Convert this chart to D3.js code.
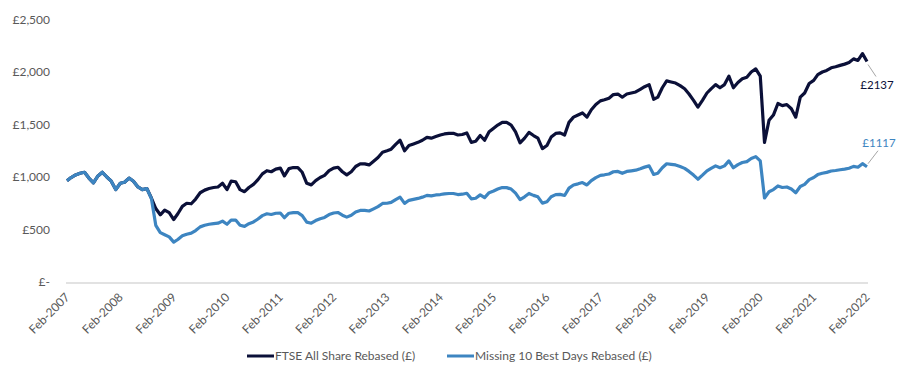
<!DOCTYPE html>
<html>
<head>
<meta charset="utf-8">
<script src="https://cdn.jsdelivr.net/npm/d3@7"></script>
<style>
  html, body { margin: 0; padding: 0; background: #ffffff; }
  svg { display: block; }
  text { font-family: Lato, "Open Sans", sans-serif; fill: #595959; }
</style>
</head>
<body>
<svg id="chart" width="904" height="374"></svg>
<script>
// ---- Data (monthly, starting Feb 2007) ----
const startMonth = "2007-02-01";
const ftseRebased = [
  965, 995, 1020, 1036, 1045, 990, 945, 1010, 1045, 1000, 960, 880,
  940, 950, 990, 960, 905, 880, 890, 800, 700, 640, 685, 660,
  595, 650, 720, 750, 745, 790, 850, 875, 890, 900, 905, 940,
  880, 960, 955, 880, 860, 900, 930, 975, 1030, 1060, 1050, 1075,
  1085, 1010, 1080, 1090, 1090, 1045, 940, 925, 965, 995, 1015, 1060,
  1085, 1093, 1050, 1020, 1050, 1100, 1125, 1125, 1115, 1150, 1185, 1235,
  1250, 1265, 1310, 1350, 1250, 1300, 1315, 1330, 1350, 1378, 1370, 1385,
  1400, 1410, 1416, 1416, 1400, 1405, 1420, 1330, 1340, 1395, 1350, 1430,
  1465, 1495, 1521, 1520, 1495, 1430, 1325, 1370, 1425, 1395, 1370, 1270,
  1300, 1380, 1415, 1420, 1400, 1520, 1570, 1590, 1610, 1570, 1640, 1690,
  1725, 1735, 1750, 1785, 1790, 1760, 1790, 1800, 1810, 1835, 1860, 1880,
  1740, 1760, 1850, 1915, 1905, 1895, 1870, 1840, 1790, 1730, 1665, 1730,
  1800, 1840, 1880, 1850, 1880, 1960, 1850, 1900, 1935, 1950, 2000, 2030,
  1960, 1330, 1540, 1590, 1700, 1680, 1690, 1650, 1570, 1760, 1800, 1890,
  1920, 1975, 2000, 2015, 2040, 2050, 2063, 2075, 2090, 2125, 2110, 2175,
  2100
];
const missing10Rebased = [
  965, 995, 1020, 1036, 1045, 990, 945, 1010, 1045, 1000, 960, 880,
  940, 950, 990, 960, 905, 880, 890, 795, 540, 470, 450, 430,
  380, 405, 440, 455, 465, 490, 525, 540, 550, 556, 560, 580,
  550, 590, 590, 540, 530, 555, 572, 600, 632, 650, 643, 655,
  657, 612, 655, 660, 660, 633, 570, 560, 585, 603, 615, 642,
  657, 662, 636, 618, 636, 667, 682, 682, 676, 697, 718, 748,
  750, 758, 785, 808, 749, 778, 787, 796, 808, 825, 820, 829,
  833, 839, 843, 843, 833, 836, 845, 792, 798, 830, 804, 851,
  867, 885, 900, 899, 885, 846, 784, 811, 843, 825, 811, 751,
  765, 812, 832, 835, 824, 894, 924, 935, 947, 924, 965, 994,
  1015, 1021, 1029, 1050, 1053, 1035, 1053, 1059, 1065, 1079, 1094, 1106,
  1024, 1035, 1088, 1126, 1120, 1115, 1100, 1082, 1053, 1018, 979, 1018,
  1059, 1082, 1106, 1088, 1106, 1153, 1088, 1118, 1138, 1147, 1176, 1194,
  1153, 800, 860, 880, 915, 900, 905, 885, 850, 910, 930, 975,
  995, 1023, 1036, 1044, 1057, 1062, 1069, 1075, 1083, 1101, 1093, 1127,
  1098
];
const yTickValues = [0, 500, 1000, 1500, 2000, 2500];
const yTickLabels = ["£-", "£500", "£1,000", "£1,500", "£2,000", "£2,500"];
const xTickYears = [2007, 2008, 2009, 2010, 2011, 2012, 2013, 2014, 2015, 2016, 2017, 2018, 2019, 2020, 2021, 2022];
const seriesNames = ["FTSE All Share Rebased (£)", "Missing 10 Best Days Rebased (£)"];
const seriesColors = ["#0b1038", "#3d85c1"];
const endLabels = ["£2137", "£1117"];

// ---- Build ----
const svg = d3.select("#chart");
const parse = d3.timeParse("%Y-%m-%d");
const start = parse(startMonth);
const dates = ftseRebased.map((_, i) => d3.timeMonth.offset(start, i));

const x = d3.scaleTime()
  .domain([new Date(2007, 1, 1), new Date(2022, 1, 1)])
  .range([67, 867]);
const y = d3.scaleLinear().domain([0, 2500]).range([282, 19.5]);

// baseline
svg.append("line")
  .attr("x1", 66).attr("x2", 868)
  .attr("y1", 283).attr("y2", 283)
  .attr("stroke", "#d9d9d9").attr("stroke-width", 1.5);

// y axis labels
const yAxis = d3.axisLeft(y).tickValues(yTickValues)
  .tickFormat((d, i) => yTickLabels[i]).tickSize(0).tickPadding(0);
const yg = svg.append("g").attr("transform", "translate(50,0)").call(yAxis);
yg.select(".domain").remove();
yg.selectAll("text").attr("font-size", 12).attr("fill", "#595959")
  .style("font-family", "Lato, sans-serif");

// x axis labels
const xAxis = d3.axisBottom(x)
  .tickValues(xTickYears.map(yr => new Date(yr, 1, 1)))
  .tickFormat(d => "Feb-" + d.getFullYear()).tickSize(0);
const xg = svg.append("g").attr("transform", "translate(0,283)").call(xAxis);
xg.select(".domain").remove();
xg.selectAll("text")
  .attr("font-size", 12).attr("fill", "#595959")
  .style("font-family", "Lato, sans-serif")
  .attr("text-anchor", "end")
  .attr("dy", "0.35em").attr("y", 0)
  .attr("transform", "translate(0,12) rotate(-45)");

// lines (FTSE first, Missing-10 drawn on top)
const line = d3.line()
  .x((d, i) => x(dates[i]))
  .y(d => y(d))
  .curve(d3.curveLinear);

[ftseRebased, missing10Rebased].forEach((s, k) => {
  svg.append("path")
    .datum(s)
    .attr("fill", "none")
    .attr("stroke", seriesColors[k])
    .attr("stroke-width", 3.2)
    .attr("stroke-linejoin", "round")
    .attr("d", line);
});

// end labels with leader lines
const lastI = ftseRebased.length - 1;
const lx = x(dates[lastI]);
svg.append("line")
  .attr("x1", lx + 1).attr("y1", y(ftseRebased[lastI]) + 3)
  .attr("x2", lx + 9).attr("y2", y(ftseRebased[lastI]) + 15)
  .attr("stroke", "#a6a6a6").attr("stroke-width", 1);
svg.append("text")
  .attr("x", lx + 10).attr("y", y(ftseRebased[lastI]) + 27)
  .attr("text-anchor", "middle").attr("font-size", 11.5)
  .style("fill", seriesColors[0]).text(endLabels[0]);

svg.append("line")
  .attr("x1", lx + 1).attr("y1", y(missing10Rebased[lastI]) - 3)
  .attr("x2", lx + 11).attr("y2", y(missing10Rebased[lastI]) - 16)
  .attr("stroke", "#a6a6a6").attr("stroke-width", 1);
svg.append("text")
  .attr("x", lx + 12).attr("y", y(missing10Rebased[lastI]) - 20)
  .attr("text-anchor", "middle").attr("font-size", 11.5)
  .style("fill", seriesColors[1]).text(endLabels[1]);

// legend
const legend = svg.append("g");
const legendX = [247, 447];
seriesNames.forEach((n, i) => {
  legend.append("line")
    .attr("x1", legendX[i]).attr("x2", legendX[i] + 27)
    .attr("y1", 356).attr("y2", 356)
    .attr("stroke", seriesColors[i]).attr("stroke-width", 3);
  legend.append("text")
    .attr("x", legendX[i] + 28).attr("y", 356)
    .attr("dy", "0.35em").attr("font-size", 12)
    .text(n);
});
</script>
</body>
</html>
